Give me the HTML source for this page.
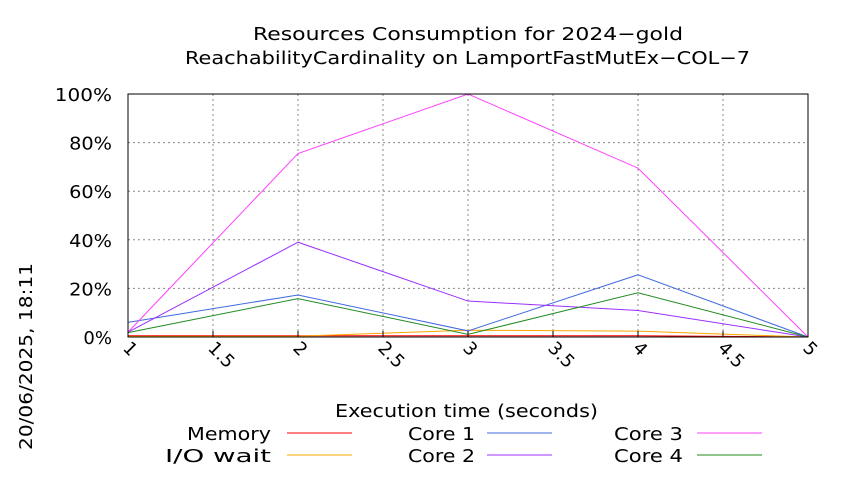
<!DOCTYPE html>
<html><head><meta charset="utf-8"><style>
body{margin:0;background:#fff;width:850px;height:475px;overflow:hidden;font-family:"DejaVu Sans",sans-serif}
</style></head><body>
<svg id="chart" width="850" height="475" xmlns="http://www.w3.org/2000/svg" font-family="DejaVu Sans, Liberation Sans, sans-serif">
<text x="253" y="40" font-size="18" textLength="430" lengthAdjust="spacingAndGlyphs">Resources Consumption for 2024−gold</text>
<text x="185" y="64" font-size="18" textLength="565" lengthAdjust="spacingAndGlyphs">ReachabilityCardinality on LamportFastMutEx−COL−7</text>
<text transform="translate(32,450) rotate(-90)" font-size="18" textLength="187" lengthAdjust="spacingAndGlyphs">20/06/2025, 18:11</text>
<text x="335" y="417" font-size="18" textLength="263" lengthAdjust="spacingAndGlyphs">Execution time (seconds)</text>
<g id="grid"></g><g id="series"></g><g id="axes"></g><g id="legend"></g>
</svg>
<script>
const xTicks=[1,1.5,2,2.5,3,3.5,4,4.5,5];
const yTicks=[0,20,40,60,80,100];
const times=[1,2,3,4,5];
const memory=[0.5,0.5,0.5,0.5,0];
const ioWait=[0.2,0.3,2.8,2.4,0];
const core1=[6,17.3,2.5,25.6,0];
const core2=[2,39,14.8,10.9,0];
const core3=[2,75.5,100,69.5,0];
const core4=[1.8,15.8,1.1,18.2,0];
const seriesNames=["Memory","I/O wait","Core 1","Core 2","Core 3","Core 4"];
const seriesData=[memory,ioWait,core1,core2,core3,core4];
const colors=["#ff0000","#ffa500","#4169e1","#9b30ff","#ff40ff","#228b22"];
const X0=128,X1=808,Y0=337,Y1=94;
const sx=v=>X0+(v-1)/4*(X1-X0);
const sy=v=>Y0-v/100*(Y0-Y1);
const NS="http://www.w3.org/2000/svg";
function mk(t,a,p){const e=document.createElementNS(NS,t);for(const k in a)e.setAttribute(k,a[k]);p.appendChild(e);return e;}
const grid=document.getElementById('grid'),axes=document.getElementById('axes'),ser=document.getElementById('series'),leg=document.getElementById('legend');
yTicks.forEach(t=>{
 const l=mk('line',{x1:X0,x2:X1,y1:sy(t),y2:sy(t),stroke:'#888','stroke-dasharray':'2,3','stroke-width':1},grid);
 
 
 const s=t+'%';
 const tx=mk('text',{x:X0-16,y:sy(t)+7,'font-size':18,'text-anchor':'end',textLength:s.length*14.3,lengthAdjust:'spacingAndGlyphs'},axes);
 tx.textContent=s;
 
 
});
xTicks.forEach(t=>{
 const l=mk('line',{x1:sx(t),x2:sx(t),y1:Y1,y2:Y0,stroke:'#888','stroke-dasharray':'2,3','stroke-width':1},grid);
 
 
 mk('line',{x1:sx(t),x2:sx(t),y1:Y0,y2:Y0-6,stroke:'#000'},axes);
 const tx=mk('text',{'font-size':18,transform:`translate(${sx(t)-6},${Y0+12}) rotate(45)`},axes);
 tx.textContent=String(t);
 
 
});
const frame=mk('rect',{x:X0,y:Y1,width:X1-X0,height:Y0-Y1,fill:'none',stroke:'#000','stroke-width':1},axes);


const legendWidths=[84,106,67,67,69,69];
seriesData.forEach((d,i)=>{
 const pl=mk('polyline',{points:d.map((v,j)=>sx(times[j])+','+sy(v)).join(' '),fill:'none',stroke:colors[i],'stroke-width':1},ser);
 
 
 const col=Math.floor(i/2),row=i%2;
 const lx=[271,475,683][col],ly=[433,455][row],sw=[287,487,697][col];
 const t=mk('text',{x:lx-legendWidths[i],y:ly+7,'font-size':18,textLength:legendWidths[i],lengthAdjust:'spacingAndGlyphs'},leg);
 t.textContent=seriesNames[i];
 
 
 const ln=mk('line',{x1:sw,x2:sw+65,y1:ly,y2:ly,stroke:colors[i],'stroke-width':1},leg);
 
 
});
</script>
</body></html>
